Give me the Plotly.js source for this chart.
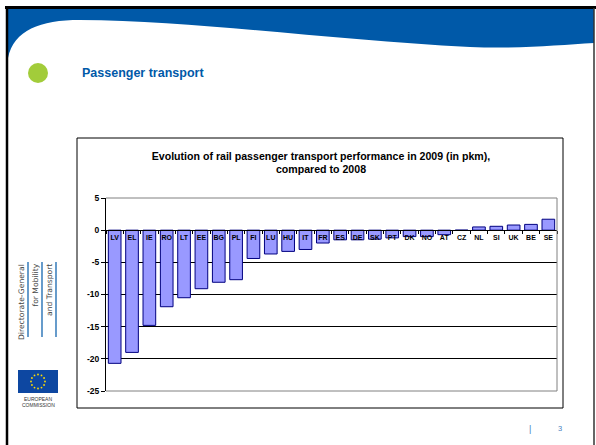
<!DOCTYPE html>
<html>
<head>
<meta charset="utf-8">
<script src="https://cdn.plot.ly/plotly-3.0.1.min.js"></script>
<style>
html,body{margin:0;padding:0;background:#fff;}
#chart{width:596px;height:445px;}
</style>
</head>
<body>
<div id="chart"></div>
<script>
// ---- data ----
var countries = ["LV","EL","IE","RO","LT","EE","BG","PL","FI","LU","HU","IT","FR","ES","DE","SK","PT","DK","NO","AT","CZ","NL","SI","UK","BE","SE"];
var change2009 = [-20.7,-19.0,-14.8,-11.9,-10.5,-9.1,-8.1,-7.7,-4.4,-3.7,-3.3,-3.0,-2.0,-1.5,-1.5,-1.4,-1.2,-1.0,-1.0,-0.7,0.0,0.5,0.6,0.8,0.9,1.7];
var yTicks = [5,0,-5,-10,-15,-20,-25];
var chartTitle = "Evolution of rail passenger transport performance in 2009 (in pkm),<br>compared to 2008";
var slideTitle = "Passenger transport";
var dgLines = ["Directorate-General","for Mobility","and Transport"];
var ecLines = ["EUROPEAN","COMMISSION"];
var pageNo = "3";

// ---- geometry helpers (pixel -> paper) ----
var W=596,H=445,L=106,R=557,T=198,B=391;
function X(x){return (x-L)/(R-L);}
function Y(y){return (B-y)/(B-T);}
var BLUE="#0059a8";
var FONT="Liberation Sans, Arial, sans-serif";

var shapes=[];
function rect(x0,y0,x1,y1,opt){
  shapes.push(Object.assign({type:"rect",xref:"paper",yref:"paper",x0:X(x0),x1:X(x1),y0:Y(y0),y1:Y(y1),line:{width:0}},opt));
}
function line(x0,y0,x1,y1,color,w){
  shapes.push({type:"line",xref:"paper",yref:"paper",x0:X(x0),x1:X(x1),y0:Y(y0),y1:Y(y1),line:{color:color,width:w}});
}
function circ(cx,cy,r,color){
  shapes.push({type:"circle",xref:"paper",yref:"paper",x0:X(cx-r),x1:X(cx+r),y0:Y(cy+r),y1:Y(cy-r),fillcolor:color,line:{width:0}});
}
// wave header
function pt(x,y){return X(x).toFixed(5)+","+Y(y).toFixed(5);}
var wave="M"+pt(8,58)+" C"+pt(14,30)+" "+pt(40,20)+" "+pt(80,20)+
  " C"+pt(200,21)+" "+pt(330,40)+" "+pt(470,47)+
  " C"+pt(520,49)+" "+pt(560,45)+" "+pt(594,43)+
  " L"+pt(594,9)+" L"+pt(8,9)+" Z";
shapes.push({type:"path",xref:"paper",yref:"paper",path:wave,fillcolor:BLUE,line:{width:0},layer:"below"});
// slide borders
line(5,7.5,596,7.5,"#000",3);
line(7,7,7,445,"#000",2.5);
line(594,8,594,445,"#333",1.5);
// chart frame
rect(77,138,563,408,{line:{color:"#000",width:1},fillcolor:"rgba(0,0,0,0)",layer:"below"});
// plot area border (grey)
line(106,198,557,198,"#808080",1);
line(557,198,557,391,"#808080",1);
line(106,391,557,391,"#808080",1);
// green bullet
circ(38,73,10,"#a2cc3a");
// DG blue vertical lines
line(28,262,28,337,BLUE,1.2);
line(42,262,42,337,BLUE,1.2);
line(56,262,56,337,BLUE,1.2);
// EU flag
rect(18,370,58,393,{fillcolor:"#0d47a1"});
for(var i=0;i<12;i++){
  var a=i*Math.PI/6;
  circ(38+7*Math.cos(a),381.5+7*Math.sin(a),0.9,"#ffdd00");
}

var ann=[];
ann.push({xref:"paper",yref:"paper",x:X(80),y:Y(73),xanchor:"left",yanchor:"middle",showarrow:false,
  text:"<b>"+slideTitle+"</b>",font:{family:FONT,size:12.5,color:BLUE}});
var dgX=[21,35,49];
for(var k=0;k<3;k++){
  ann.push({xref:"paper",yref:"paper",x:X(dgX[k]),y:Y(262),xanchor:"center",yanchor:"top",showarrow:false,textangle:-90,
    text:dgLines[k],font:{family:"DejaVu Sans, sans-serif",size:7.6,color:"#444"}});
}
ann.push({xref:"paper",yref:"paper",x:X(38),y:Y(399),xanchor:"center",yanchor:"middle",showarrow:false,
  text:ecLines[0],font:{family:FONT,size:5,color:"#333"}});
ann.push({xref:"paper",yref:"paper",x:X(38),y:Y(405),xanchor:"center",yanchor:"middle",showarrow:false,
  text:ecLines[1],font:{family:FONT,size:5,color:"#333"}});
ann.push({xref:"paper",yref:"paper",x:X(530),y:Y(429),xanchor:"center",yanchor:"middle",showarrow:false,
  text:"|",font:{family:FONT,size:9,color:"#4a7fc0"}});
ann.push({xref:"paper",yref:"paper",x:X(560),y:Y(428),xanchor:"center",yanchor:"middle",showarrow:false,
  text:pageNo,font:{family:FONT,size:7.5,color:"#4a7fc0"}});

var trace={type:"bar",x:countries,y:change2009,
  marker:{color:"#9999ff",line:{color:"#000080",width:1}},hoverinfo:"x+y"};

var layout={
  width:W,height:H,autosize:false,
  margin:{l:L,r:W-R,t:T,b:H-B,pad:0},
  paper_bgcolor:"#fff",plot_bgcolor:"rgba(0,0,0,0)",
  showlegend:false,bargap:0.27,
  title:{text:"<b>"+chartTitle+"</b>",font:{family:FONT,size:10.6,color:"#000"},
    xref:"paper",x:X(321),xanchor:"center",yref:"container",y:1-159.5/H,yanchor:"middle"},
  xaxis:{type:"category",anchor:"free",position:25/30,showline:true,linecolor:"#000",linewidth:1,
    ticks:"outside",tickson:"boundaries",ticklen:3,tickcolor:"#000",tickwidth:1,
    showgrid:false,zeroline:false,fixedrange:true,
    tickfont:{family:FONT,size:7,color:"#000",weight:"bold"},tickangle:0},
  yaxis:{range:[-25,5],tickvals:yTicks,ticktext:yTicks.map(String),showline:true,linecolor:"#000",linewidth:1,
    ticks:"outside",ticklen:4,tickcolor:"#000",showgrid:true,gridcolor:"#000",gridwidth:1,zeroline:false,
    fixedrange:true,tickfont:{family:FONT,size:8.5,color:"#000",weight:"bold"}},
  shapes:shapes,annotations:ann
};
Plotly.newPlot("chart",[trace],layout,{staticPlot:true,displayModeBar:false});
</script>
</body>
</html>
